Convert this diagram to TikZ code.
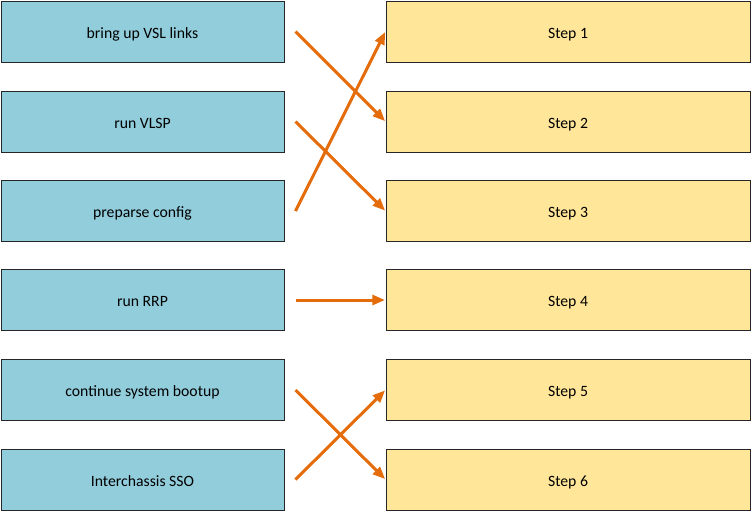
\documentclass[tikz,border=0pt]{standalone}
\usepackage{fontspec}
\setmainfont{Carlito}
\usetikzlibrary{arrows.meta,positioning,calc}
\definecolor{actblue}{HTML}{92CDDC}
\definecolor{stpyellow}{HTML}{FFE699}
\definecolor{arrorange}{HTML}{E46C0A}
\definecolor{boxline}{HTML}{262626}
\tikzset{
  act/.style = {rectangle, draw=boxline, line width=0.75pt, fill=actblue,
                minimum width=212.25pt, minimum height=45.75pt,
                text height=12pt, text depth=2pt,
                font=\fontsize{11.8pt}{14pt}\selectfont, inner sep=0pt},
  stp/.style = {rectangle, draw=boxline, line width=0.75pt, fill=stpyellow,
                minimum width=273pt, minimum height=45.75pt,
                text height=12pt, text depth=2pt,
                font=\fontsize{11.8pt}{14pt}\selectfont, inner sep=0pt},
  ed/.style  = {-{Triangle[length=3.3mm,width=2.6mm]}, draw=arrorange,
                line width=2.25pt, shorten >=0.4pt},
}
\begin{document}
\begin{tikzpicture}[x=0.75pt,y=-0.75pt]
  \useasboundingbox (0,0) rectangle (752,512);
  % left: actions, right: steps
  \foreach \i/\yc/\txt in {1/31.5/bring up VSL links, 2/121.5/run VLSP,
                           3/211/preparse config, 4/300/run RRP,
                           5/390/continue system bootup, 6/479.5/Interchassis SSO}{
    \node[act] (a\i) at (142.5,\yc) {\txt};
    \node[stp] (s\i) at (568,\yc) {Step \i};
  }
  \foreach \a/\b in {1/2, 2/3, 3/1, 4/4, 5/6, 6/5}{
    \draw[ed] ($(a\a.east)+(11,0)$) -- (s\b.west);
  }
\end{tikzpicture}
\end{document}
